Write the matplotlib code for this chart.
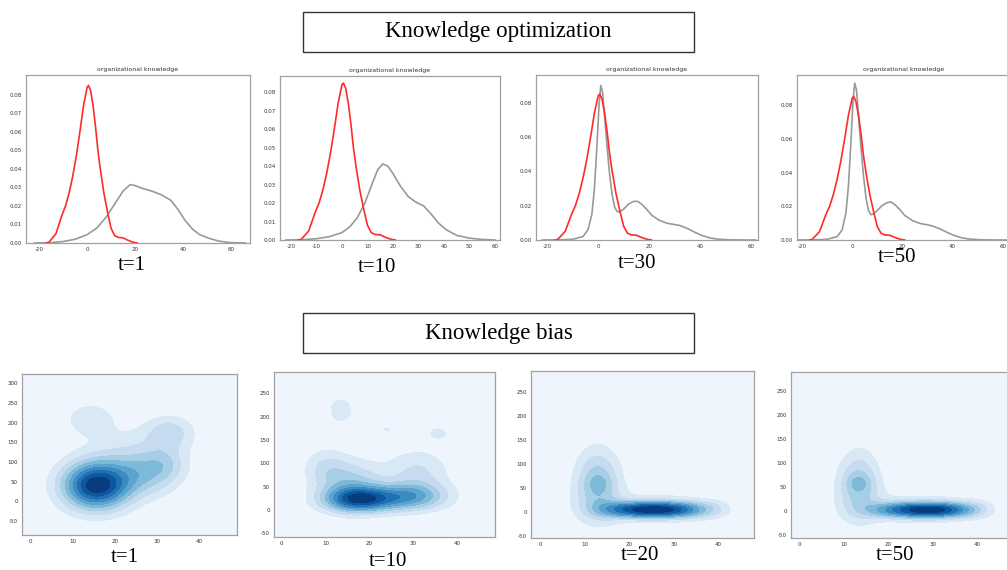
import numpy as np
import matplotlib.pyplot as plt
from matplotlib.patches import Rectangle

plt.rcParams["axes.unicode_minus"] = False

W, H = 1007, 570

# ---- top row: 1D KDE curves ----
red_x = [-17, -16, -13, -10.5, -9, -7.5, -6, -4.5, -3, -1.5, 0, 0.6, 1.5, 2.5, 3.5,
         4.5, 5.5, 7, 8.5, 10, 11.5, 13, 15, 17, 19, 21]
red_y = [0, 0.0003, 0.005, 0.015, 0.02, 0.027, 0.036, 0.047, 0.06, 0.074, 0.084, 0.085,
         0.082, 0.074, 0.063, 0.05, 0.04, 0.027, 0.017, 0.008, 0.004, 0.003, 0.0028,
         0.0015, 0.0005, 0]

gray1_x = [-22, -15, -10, -5, 0, 4, 8, 12, 15, 18, 20, 23, 27, 31, 35, 38, 41, 44, 47,
           51, 55, 60, 66]
gray1_y = [0, 0.0002, 0.0008, 0.002, 0.0045, 0.008, 0.014, 0.022, 0.028, 0.0315, 0.031,
           0.0295, 0.028, 0.026, 0.023, 0.018, 0.012, 0.0075, 0.0045, 0.0025, 0.001,
           0.0002, 0]

gray2_x = [-22, -15, -10, -5, 0, 3, 6, 9, 12, 14, 16, 18, 20, 23, 26, 29, 32, 35, 38,
           41, 45, 50, 55, 60]
gray2_y = [0, 0.0002, 0.0007, 0.0018, 0.004, 0.007, 0.012, 0.02, 0.031, 0.038, 0.0412,
           0.040, 0.036, 0.029, 0.0235, 0.0205, 0.0185, 0.014, 0.009, 0.0055, 0.0025,
           0.001, 0.0003, 0]

gray34_x = [-22, -15, -10, -6, -4, -2.5, -1.5, -0.5, 0.3, 1, 1.7, 2.5, 3.5, 4.5, 5.5,
            6.5, 7.5, 8.5, 10, 12, 14, 15.5, 17, 19, 21, 24, 27, 30, 32, 35, 38, 41,
            44, 47, 52, 58, 62]
gray3_y = [0, 0.0001, 0.0004, 0.002, 0.006, 0.015, 0.03, 0.055, 0.078, 0.09, 0.086,
           0.072, 0.054, 0.038, 0.026, 0.019, 0.0165, 0.0165, 0.018, 0.021, 0.0225,
           0.0225, 0.021, 0.018, 0.0145, 0.0115, 0.0098, 0.009, 0.0085, 0.0068, 0.0045,
           0.0025, 0.0012, 0.0005, 0.0001, 0, 0]
gray4_y = [0, 0.0001, 0.0004, 0.002, 0.006, 0.016, 0.032, 0.058, 0.082, 0.093, 0.089,
           0.074, 0.055, 0.038, 0.025, 0.0175, 0.015, 0.0155, 0.0175, 0.0205, 0.0222,
           0.0225, 0.021, 0.018, 0.0145, 0.0115, 0.0098, 0.009, 0.0083, 0.0066, 0.0044,
           0.0025, 0.0012, 0.0005, 0.0001, 0, 0]

top_labels = ["t=1", "t=10", "t=30", "t=50"]
bottom_labels = ["t=1", "t=10", "t=20", "t=50"]

# ---- bottom row: 2D KDE shapes as blobs (centre x, centre y, sd x, sd y, height) ----
b1_cx = [15.5, 27, 32, 33, 14, 24]
b1_cy = [40, 70, 95, 175, 210, 135]
b1_sx = [5.5, 5.5, 3.5, 4, 4.2, 8]
b1_sy = [42, 40, 30, 30, 30, 45]
b1_h = [1.0, 0.32, 0.15, 0.24, 0.17, 0.12]

b2_cx = [17.5, 16, 29, 31, 10, 13.5, 24, 35.7]
b2_cy = [22, 55, 28, 80, 90, 214, 173, 165]
b2_sx = [5.5, 5, 6, 5, 3.5, 2.8, 1, 2.2]
b2_sy = [18, 35, 20, 35, 30, 28, 4, 13]
b2_h = [1.0, 0.45, 0.7, 0.3, 0.25, 0.19, 0.16, 0.17]

b3_cx = [18, 23, 28, 33, 18, 23, 28, 33, 26, 13, 12.5, 39, 13.2]
b3_cy = [-2, -2, -2, -2, 10, 10, 10, 10, 8, 65, 20, 5, 60]
b3_sx = [4, 4, 4, 4, 4, 4, 4, 4, 9, 3.5, 4, 3, 1.8]
b3_sy = [9, 9, 9, 9, 9, 9, 9, 9, 25, 48, 40, 14, 12]
b3_h = [0.4, 0.5, 0.5, 0.4, 0.4, 0.5, 0.5, 0.4, 0.25, 0.6, 0.17, 0.2, 0.12]

b4_cx = [20, 25, 30, 35, 20, 25, 30, 35, 27, 13.4, 13, 40, 13.3]
b4_cy = [-3, -3, -3, -3, 8, 8, 8, 8, 6, 62, 20, 4, 59]
b4_sx = [4, 4, 4, 4, 4, 4, 4, 4, 9, 3.2, 4, 3, 2]
b4_sy = [9, 9, 9, 9, 9, 9, 9, 9, 25, 46, 40, 14, 12]
b4_h = [0.33, 0.45, 0.55, 0.42, 0.33, 0.45, 0.55, 0.42, 0.25, 0.55, 0.17, 0.2, 0.18]


def px_axes(fig, l, t, r, b):
    return fig.add_axes([l / W, 1 - b / H, (r - l) / W, (b - t) / H])


def style(ax):
    for s in ax.spines.values():
        s.set_color("#a0a0a0")
        s.set_linewidth(0.9)
    ax.tick_params(length=0, labelsize=4, colors="#333333", pad=3)


fig = plt.figure(figsize=(W / 100, H / 100), dpi=100)
serif = ["Liberation Serif", "DejaVu Serif"]

# header boxes
for (l, t, r, b), txt in [((303, 12, 694, 52), "Knowledge optimization"),
                          ((303, 313, 694, 353), "Knowledge bias")]:
    fig.add_artist(Rectangle((l / W, 1 - b / H), (r - l) / W, (b - t) / H,
                             transform=fig.transFigure, fill=False, ec="#333333", lw=1))
    fig.text((l + r) / 2 / W, 1 - (t + b) / 2 / H, txt, family=serif, fontsize=16.5,
             ha="center", va="center")

# top row
top_boxes = [(26, 75, 250, 243), (280, 76, 500, 240), (536, 75, 758, 240), (797, 75, 1010, 240)]
top_xlim = [(-25.5, 68), (-24.3, 62), (-24.5, 62.9), (-22, 62.9)]
top_ylim = [(0, 0.0906), (0, 0.0888), (0, 0.0961), (0, 0.0978)]
top_xt = [[-20, 0, 20, 40, 60], list(range(-20, 61, 10)), [-20, 0, 20, 40, 60], [-20, 0, 20, 40, 60]]
top_yt = [np.arange(0, 0.081, 0.01), np.arange(0, 0.081, 0.01),
          np.arange(0, 0.081, 0.02), np.arange(0, 0.081, 0.02)]
gray_x = [gray1_x, gray2_x, gray34_x, gray34_x]
gray_y = [gray1_y, gray2_y, gray3_y, gray4_y]
top_lab_pos = [(132, 266), (377, 268), (637, 263), (897, 257)]

for i in range(4):
    ax = px_axes(fig, *top_boxes[i])
    ax.plot(gray_x[i], gray_y[i], color="#999999", lw=1.2)
    ax.plot(red_x, red_y, color="#ff2a2a", lw=1.2)
    ax.set_xlim(top_xlim[i])
    ax.set_ylim(top_ylim[i])
    ax.set_xticks(top_xt[i])
    ax.set_yticks(top_yt[i])
    ax.set_yticklabels([f"{v:.2f}" for v in top_yt[i]])
    ax.set_title("organizational knowledge", fontsize=4.5, color="#333333", pad=3)
    style(ax)
    x, y = top_lab_pos[i]
    fig.text(x / W, 1 - y / H, top_labels[i], family=serif, fontsize=15,
             ha="center", va="center")

# bottom row
bot_boxes = [(22, 374, 237, 535), (274, 372, 495, 537), (531, 371, 754, 538), (791, 372, 1014, 538)]
bot_xlim = [(-2.1, 48.9), (-1.75, 48.6), (-2.0, 48.0), (-1.9, 48.3)]
bot_ylim = [(-86, 324), (-58, 296), (-55, 293), (-56, 290)]
bot_yt = [list(range(-50, 301, 50)), list(range(-50, 251, 50)),
          list(range(-50, 251, 50)), list(range(-50, 251, 50))]
blobs = [(b1_cx, b1_cy, b1_sx, b1_sy, b1_h), (b2_cx, b2_cy, b2_sx, b2_sy, b2_h),
         (b3_cx, b3_cy, b3_sx, b3_sy, b3_h), (b4_cx, b4_cy, b4_sx, b4_sy, b4_h)]
bot_lab_pos = [(125, 557), (388, 562), (640, 556), (895, 555)]

for i in range(4):
    ax = px_axes(fig, *bot_boxes[i])
    xs = np.linspace(*bot_xlim[i], 300)
    ys = np.linspace(*bot_ylim[i], 300)
    X, Y = np.meshgrid(xs, ys)
    Z = np.zeros_like(X)
    for cx, cy, sx, sy, h in zip(*blobs[i]):
        Z += h * np.exp(-0.5 * (((X - cx) / sx) ** 2 + ((Y - cy) / sy) ** 2))
    ax.contourf(X, Y, Z, levels=np.linspace(0, Z.max(), 11), cmap="Blues")
    ax.set_xlim(bot_xlim[i])
    ax.set_ylim(bot_ylim[i])
    ax.set_xticks([0, 10, 20, 30, 40])
    ax.set_yticks(bot_yt[i])
    style(ax)
    x, y = bot_lab_pos[i]
    fig.text(x / W, 1 - y / H, bottom_labels[i], family=serif, fontsize=15,
             ha="center", va="center")

fig.savefig("out.png", dpi=100)
